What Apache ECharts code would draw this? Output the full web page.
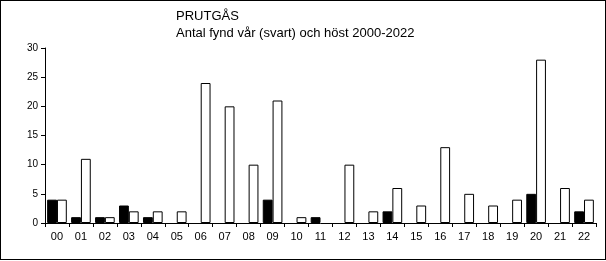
<!DOCTYPE html>
<html><head><meta charset="utf-8">
<script src="https://cdn.jsdelivr.net/npm/echarts@6/dist/echarts.min.js"></script>
<style>
html,body{margin:0;padding:0;background:#fff;}
#wrap{position:absolute;left:0;top:0;width:604px;height:258px;border:1px solid #000;}
#c{width:604px;height:258px;}
</style></head><body>
<div id="wrap"><div id="c"></div></div>
<script>
var categories = ['00','01','02','03','04','05','06','07','08','09','10','11','12','13','14','15','16','17','18','19','20','21','22'];
var spring = [4,1,1,3,1,0,0,0,0,4,0,1,0,0,2,0,0,0,0,0,5,0,2];
var autumn = [4,11,1,2,2,2,24,20,10,21,1,0,10,2,6,3,13,5,3,4,28,6,4];
var yTicks = [0,5,10,15,20,25,30];

function hideZero(arr){ return arr.map(function(v){ return v === 0 ? '-' : v; }); }

var FONT = 'Liberation Sans, Arial, sans-serif';
var chart = echarts.init(document.getElementById('c'), null, {renderer:'canvas'});
chart.setOption({
  animation:false,
  textStyle:{fontFamily:FONT},
  title:{
    text:'PRUTGÅS\nAntal fynd vår (svart) och höst 2000-2022',
    left:170, top:2,
    textStyle:{fontSize:13, fontWeight:'normal', color:'#000', lineHeight:17, fontFamily:FONT}
  },
  grid:{left:44, right:9, top:47, bottom:36},
  xAxis:{
    type:'category', data:categories, boundaryGap:true,
    axisLine:{lineStyle:{color:'#000', width:1}},
    axisTick:{show:true, alignWithLabel:false, length:4, lineStyle:{color:'#000'}},
    axisLabel:{color:'#000', fontSize:11, margin:8, fontFamily:FONT},
    splitLine:{show:false}
  },
  yAxis:{
    type:'value', min:yTicks[0], max:yTicks[yTicks.length-1], interval:5,
    axisLine:{show:true, lineStyle:{color:'#000', width:1}},
    axisTick:{show:true, length:4, lineStyle:{color:'#000'}},
    axisLabel:{color:'#000', fontSize:10, margin:7, fontFamily:FONT},
    splitLine:{show:false}
  },
  series:[
    {type:'bar', name:'vår', data:hideZero(spring), barGap:'0%', barCategoryGap:'18%',
     itemStyle:{color:'#000', borderColor:'#000', borderWidth:1}},
    {type:'bar', name:'höst', data:hideZero(autumn), barGap:'0%', barCategoryGap:'18%',
     itemStyle:{color:'#fff', borderColor:'#000', borderWidth:1}}
  ]
});
</script>
</body></html>
